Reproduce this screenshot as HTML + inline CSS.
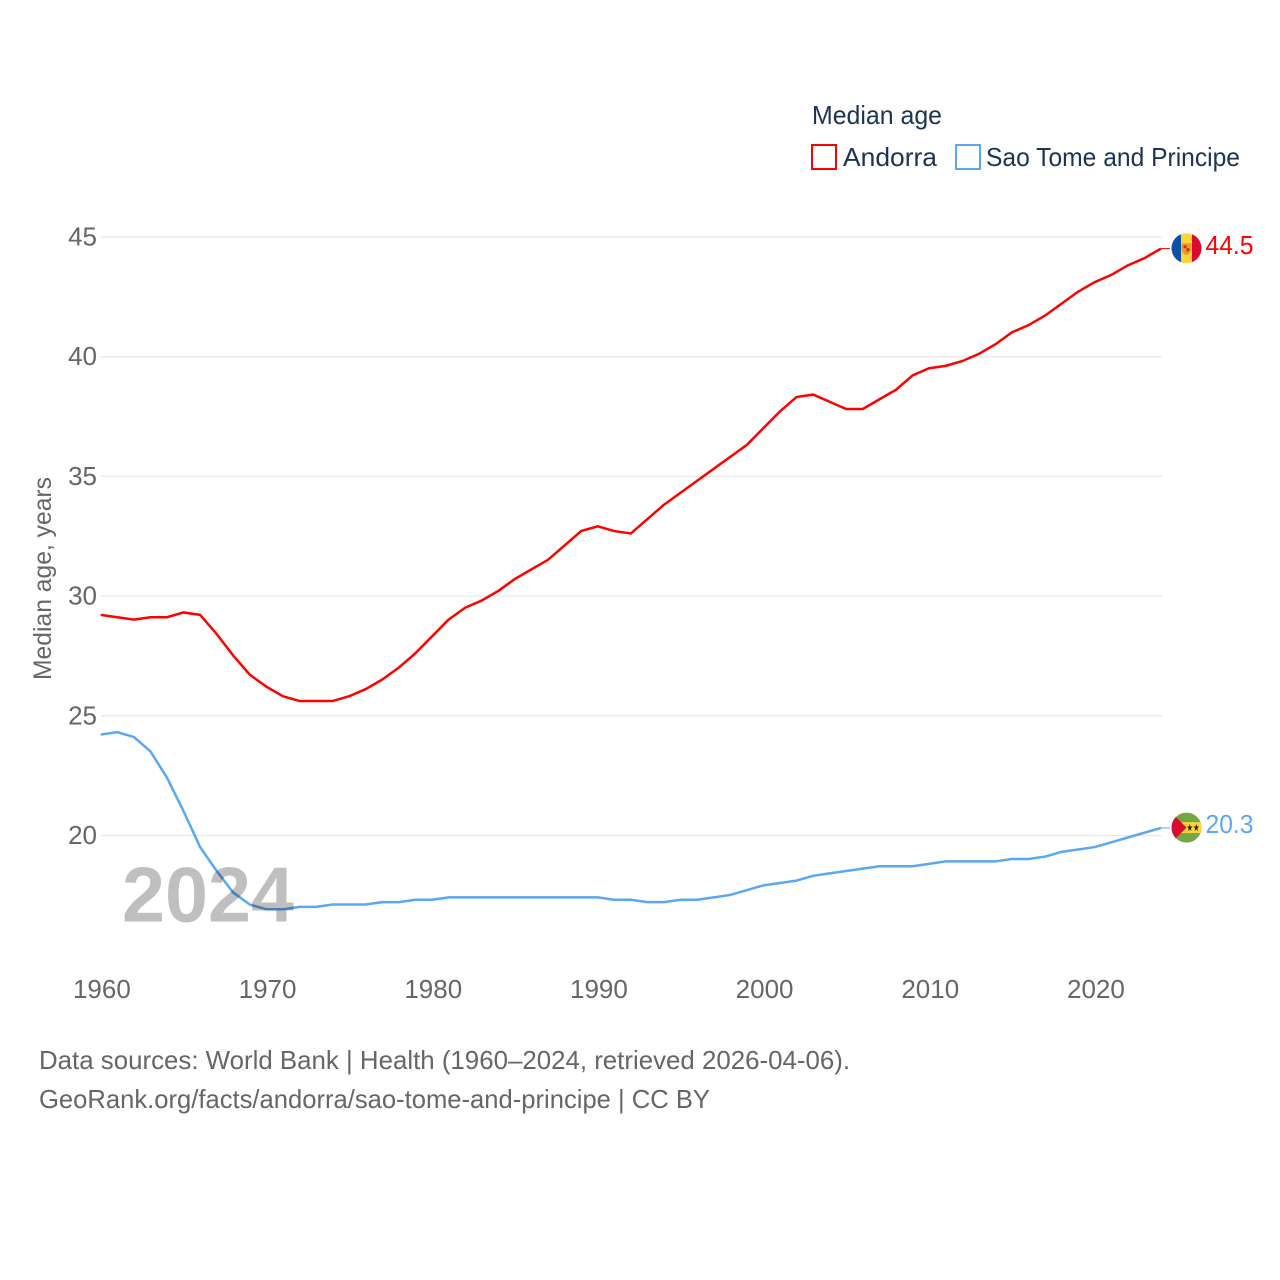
<!DOCTYPE html>
<html lang="en">
<head>
<meta charset="utf-8">
<title>Median age: Andorra and Sao Tome and Principe</title>
<style>
html,body{margin:0;padding:0;background:#fff;}
svg{display:block;font-family:"Liberation Sans",sans-serif;}
</style>
</head>
<body>
<svg id="chart" xmlns="http://www.w3.org/2000/svg" width="1280" height="1280" viewBox="0 0 1280 1280">
  <defs>
    <clipPath id="flag-clip-andorra"><circle cx="0" cy="0" r="15"/></clipPath>
    <clipPath id="flag-clip-stp"><circle cx="0" cy="0" r="15"/></clipPath>
  </defs>
  <rect width="1280" height="1280" fill="#fff"/>

  <g id="grid"></g>
  <g id="y-ticks"></g>
  <g id="x-ticks"></g>

  <text transform="translate(51,680) rotate(-90)" font-size="25" fill="#666" textLength="203" lengthAdjust="spacingAndGlyphs">Median age, years</text>

  <g id="series"></g>

  <text x="122" y="921.5" font-size="78" font-weight="700" fill="#000" fill-opacity="0.25" textLength="172" lengthAdjust="spacingAndGlyphs">2024</text>

  <g>
    <text x="812" y="124" font-size="26" fill="#1b3455" textLength="130" lengthAdjust="spacingAndGlyphs">Median age</text>
    <g>
      <rect x="812" y="145" width="24" height="24" fill="#fff" stroke="#ff0000" stroke-width="2"/>
      <text x="843" y="166" font-size="26" fill="#1b3455" textLength="94" lengthAdjust="spacingAndGlyphs">Andorra</text>
    </g>
    <g>
      <rect x="956" y="145" width="24" height="24" fill="#fff" stroke="#5ba8f0" stroke-width="2"/>
      <text x="986" y="166" font-size="26" fill="#1b3455" textLength="254" lengthAdjust="spacingAndGlyphs">Sao Tome and Principe</text>
    </g>
  </g>

  <g id="flag-andorra">
    <g clip-path="url(#flag-clip-andorra)">
      <rect x="-15" y="-15" width="30" height="30" fill="#fdd23e"/>
      <rect x="-15" y="-15" width="9.5" height="30" fill="#0a52a8"/>
      <rect x="5.5" y="-15" width="9.5" height="30" fill="#d80c2e"/>
      <path d="M-5-5H5V1Q5 5 0 7Q-5 5-5 1Z" fill="#e8a020"/>
      <path d="M-3-3H0V0H3V2L0 4V0H-3Z" fill="#d8242c"/>
    </g>
  </g>
  <g id="flag-stp">
    <g clip-path="url(#flag-clip-stp)">
      <rect x="-15" y="-15" width="30" height="30" fill="#74a744"/>
      <rect x="-15" y="-5.5" width="30" height="11" fill="#fdd23e"/>
      <path d="M-15-15L0 0L-15 15Z" fill="#d80c2e"/>
      <text x="0" y="3.5" font-size="10" fill="#222" font-family="'DejaVu Sans',sans-serif" textLength="13" lengthAdjust="spacingAndGlyphs">★★</text>
    </g>
  </g>
  <g id="end-labels"></g>

  <g>
    <text x="39" y="1069" font-size="26" fill="#666" textLength="811" lengthAdjust="spacingAndGlyphs">Data sources: World Bank | Health (1960–2024, retrieved 2026-04-06).</text>
    <text x="39" y="1108" font-size="26" fill="#666" textLength="671" lengthAdjust="spacingAndGlyphs">GeoRank.org/facts/andorra/sao-tome-and-principe | CC BY</text>
  </g>
</svg>
<script>
const years = [];
for (let yr = 1960; yr <= 2024; yr++) years.push(yr);
const andorraValues = [29.2,29.1,29.0,29.1,29.1,29.3,29.2,28.4,27.5,26.7,26.2,25.8,25.6,25.6,25.6,25.8,26.1,26.5,27.0,27.6,28.3,29.0,29.5,29.8,30.2,30.7,31.1,31.5,32.1,32.7,32.9,32.7,32.6,33.2,33.8,34.3,34.8,35.3,35.8,36.3,37.0,37.7,38.3,38.4,38.1,37.8,37.8,38.2,38.6,39.2,39.5,39.6,39.8,40.1,40.5,41.0,41.3,41.7,42.2,42.7,43.1,43.4,43.8,44.1,44.5];
const saoTomeValues = [24.2,24.3,24.1,23.5,22.4,21.0,19.5,18.5,17.6,17.1,16.9,16.9,17.0,17.0,17.1,17.1,17.1,17.2,17.2,17.3,17.3,17.4,17.4,17.4,17.4,17.4,17.4,17.4,17.4,17.4,17.4,17.3,17.3,17.2,17.2,17.3,17.3,17.4,17.5,17.7,17.9,18.0,18.1,18.3,18.4,18.5,18.6,18.7,18.7,18.7,18.8,18.9,18.9,18.9,18.9,19.0,19.0,19.1,19.3,19.4,19.5,19.7,19.9,20.1,20.3];
const yTickValues = [20,25,30,35,40,45];
const xTickValues = [1960,1970,1980,1990,2000,2010,2020];

const NS = 'http://www.w3.org/2000/svg';
function xScale(year) { return 100.7 + (year - 1960) * (1161 - 100.7) / 64; }
function yScale(value) { return 236.6 + (45 - value) * 23.94; }
function make(tag, parent) {
  const el = document.createElementNS(NS, tag);
  parent.appendChild(el);
  return el;
}

const grid = document.getElementById('grid');
const yTicks = document.getElementById('y-ticks');
yTickValues.forEach(function (v) {
  const line = make('line', grid);
  
  
  line.setAttribute('x1', 101);
  line.setAttribute('x2', 1162);
  line.setAttribute('y1', yScale(v) + 0.4);
  line.setAttribute('y2', yScale(v) + 0.4);
  line.setAttribute('stroke', '#e8e8e8');
  line.setAttribute('stroke-width', '1.3');
  const label = make('text', yTicks);
  
  
  label.setAttribute('x', 97);
  label.setAttribute('y', yScale(v) + 8.9);
  label.setAttribute('text-anchor', 'end');
  label.setAttribute('font-size', '26');
  label.setAttribute('fill', '#666');
  label.textContent = v;
});

const xTicks = document.getElementById('x-ticks');
xTickValues.forEach(function (v) {
  const label = make('text', xTicks);
  
  
  label.setAttribute('x', xScale(v) + 1.2);
  label.setAttribute('y', 998);
  label.setAttribute('text-anchor', 'middle');
  label.setAttribute('font-size', '26');
  label.setAttribute('fill', '#666');
  label.textContent = v;
});

function pathFor(values) {
  return values.map(function (v, i) {
    return (i ? 'L' : 'M') + xScale(years[i]).toFixed(2) + ' ' + yScale(v).toFixed(2);
  }).join('');
}

const seriesGroup = document.getElementById('series');
const endLabels = document.getElementById('end-labels');

const andorraLine = make('path', seriesGroup);


andorraLine.setAttribute('d', pathFor(andorraValues));
andorraLine.setAttribute('fill', 'none');
andorraLine.setAttribute('stroke', '#ff0000');
andorraLine.setAttribute('stroke-width', '2.5');

const saoTomeLine = make('path', seriesGroup);


saoTomeLine.setAttribute('d', pathFor(saoTomeValues));
saoTomeLine.setAttribute('fill', 'none');
saoTomeLine.setAttribute('stroke', '#5ba8f0');
saoTomeLine.setAttribute('stroke-width', '2.5');

const andorraLast = andorraValues[andorraValues.length - 1];
const saoTomeLast = saoTomeValues[saoTomeValues.length - 1];

const andorraConnector = make('line', seriesGroup);


andorraConnector.setAttribute('x1', xScale(2024));
andorraConnector.setAttribute('x2', 1170);
andorraConnector.setAttribute('y1', yScale(andorraLast));
andorraConnector.setAttribute('y2', yScale(andorraLast));
andorraConnector.setAttribute('stroke', '#ff0000');
andorraConnector.setAttribute('stroke-width', '1');

const saoTomeConnector = make('line', seriesGroup);


saoTomeConnector.setAttribute('x1', xScale(2024));
saoTomeConnector.setAttribute('x2', 1170);
saoTomeConnector.setAttribute('y1', yScale(saoTomeLast));
saoTomeConnector.setAttribute('y2', yScale(saoTomeLast));
saoTomeConnector.setAttribute('stroke', '#5ba8f0');
saoTomeConnector.setAttribute('stroke-width', '1');

document.getElementById('flag-andorra').setAttribute('transform', 'translate(1186.5,' + (yScale(andorraLast) - 0.3) + ')');
document.getElementById('flag-stp').setAttribute('transform', 'translate(1186.5,' + (yScale(saoTomeLast) - 0.3) + ')');

const andorraEnd = make('text', endLabels);


andorraEnd.setAttribute('x', 1205.5);
andorraEnd.setAttribute('y', yScale(andorraLast) + 5.3);
andorraEnd.setAttribute('font-size', '26');
andorraEnd.setAttribute('fill', '#ff0000');
andorraEnd.setAttribute('textLength', '48');
andorraEnd.setAttribute('lengthAdjust', 'spacingAndGlyphs');
andorraEnd.textContent = andorraLast.toFixed(1);

const saoTomeEnd = make('text', endLabels);


saoTomeEnd.setAttribute('x', 1205.5);
saoTomeEnd.setAttribute('y', yScale(saoTomeLast) + 5.3);
saoTomeEnd.setAttribute('font-size', '26');
saoTomeEnd.setAttribute('fill', '#5ba8f0');
saoTomeEnd.setAttribute('textLength', '48');
saoTomeEnd.setAttribute('lengthAdjust', 'spacingAndGlyphs');
saoTomeEnd.textContent = saoTomeLast.toFixed(1);
</script>
</body>
</html>
